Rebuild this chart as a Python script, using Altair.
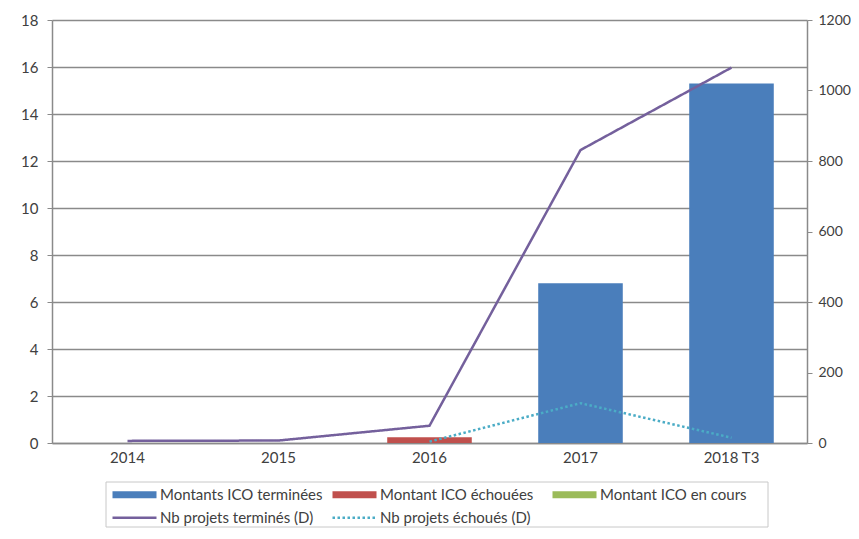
import altair as alt
import pandas as pd

# ---- data ----
categories = ["2014", "2015", "2016", "2017", "2018 T3"]

bar_series = ["Montants ICO terminées", "Montant ICO échouées", "Montant ICO en cours"]
montants_terminees = [0, 0, 0, 6.8, 15.3]
montant_echouees = [0, 0, 0.24, 0, 0]
montant_en_cours = [0, 0, 0, 0, 0]

line_series = ["Nb projets terminés (D)", "Nb projets échoués (D)"]
nb_termines = [6, 7, 49, 831, 1065]
nb_echoues = [None, None, 4, 113, 15]

left_ticks = [0, 2, 4, 6, 8, 10, 12, 14, 16, 18]
right_ticks = [0, 200, 400, 600, 800, 1000, 1200]

bar_colors = ["#4a7ebb", "#c0504d", "#9bbb59"]
line_colors = ["#74609c", "#4bacc6"]

# ---- tables ----
bar_rows = []
for s, vals in zip(bar_series, [montants_terminees, montant_echouees, montant_en_cours]):
    for c, v in zip(categories, vals):
        bar_rows.append({"cat": c, "series": s, "value": v, "ord": bar_series.index(s)})
bar_df = pd.DataFrame(bar_rows)

line_rows = []
for s, vals in zip(line_series, [nb_termines, nb_echoues]):
    for c, v in zip(categories, vals):
        if v is not None:
            line_rows.append({"cat": c, "series": s, "value": v})
line_df = pd.DataFrame(line_rows)

FONT = "Lato"
TXT = "#404040"
GRID = "#8a8a8a"

x_enc = alt.X(
    "cat:N",
    sort=categories,
    scale=alt.Scale(paddingInner=0.44, paddingOuter=0.22),
    axis=alt.Axis(title=None, labelAngle=0, ticks=False, domain=True,
                  domainColor=GRID, domainWidth=1.5, labelPadding=7),
)

rect_path = "M-5.5,-0.9H5.5V0.9H-5.5Z"
line_path = "M-5.5,0H5.5"

bars = alt.Chart(bar_df).mark_bar().encode(
    x=x_enc,
    y=alt.Y("value:Q", stack="zero",
            scale=alt.Scale(domain=[0, 18], nice=False),
            axis=alt.Axis(title=None, values=left_ticks, grid=True, gridColor=GRID,
                          gridWidth=1.3, domain=True, domainColor=GRID, domainWidth=1.5,
                          tickSize=5, tickColor=GRID, labelPadding=9)),
    fill=alt.Fill("series:N",
                  scale=alt.Scale(domain=bar_series, range=bar_colors),
                  legend=alt.Legend(title=None, orient="none", legendX=57, legendY=467,
                                    direction="horizontal", columns=3, gridAlign="all",
                                    columnPadding=6, symbolType=rect_path, symbolSize=64,
                                    symbolOffset=18, labelOffset=18, labelLimit=400,
                                    symbolStrokeWidth=0, padding=0)),
    order=alt.Order("ord:Q"),
)

line_legend = alt.Legend(title=None, orient="none", legendX=57, legendY=490,
                         direction="horizontal", columns=2, gridAlign="each",
                         columnPadding=13, symbolType=line_path, symbolSize=64,
                         symbolOffset=18, labelOffset=18, labelLimit=400,
                         symbolStrokeWidth=2.5, padding=0)

lines = alt.Chart(line_df).mark_line(strokeWidth=2.5).encode(
    x=x_enc,
    y=alt.Y("value:Q",
            scale=alt.Scale(domain=[0, 1200], nice=False),
            axis=alt.Axis(title=None, orient="right", values=right_ticks, grid=False,
                          format="d", labelFontSize=14,
                          domain=True, domainColor=GRID, domainWidth=1.5,
                          tickSize=5, tickColor=GRID, labelPadding=6)),
    stroke=alt.Stroke("series:N", scale=alt.Scale(domain=line_series, range=line_colors),
                      legend=line_legend),
    strokeDash=alt.StrokeDash("series:N",
                              scale=alt.Scale(domain=line_series, range=[[1, 0], [2.5, 2.5]]),
                              legend=line_legend),
)

box = alt.Chart(pd.DataFrame({"k": [0]})).mark_rect(
    fill="white", fillOpacity=0, stroke="#c8c8c8", strokeWidth=1
).encode(x=alt.value(54), x2=alt.value(716), y=alt.value(462), y2=alt.value(507))

chart = (
    alt.layer(bars, lines, box)
    .resolve_scale(y="independent")
    .properties(width=755, height=423, autosize=alt.AutoSizeParams(type="none"),
                padding={"left": 44, "top": 12, "right": 44, "bottom": 85})
    .configure_view(stroke=None)
    .configure_axis(labelFont=FONT, labelFontSize=15, labelColor=TXT)
    .configure_legend(labelFont=FONT, labelFontSize=15, labelColor=TXT)
)

chart.save("out.html", embed_options={"renderer": "svg", "actions": False})
